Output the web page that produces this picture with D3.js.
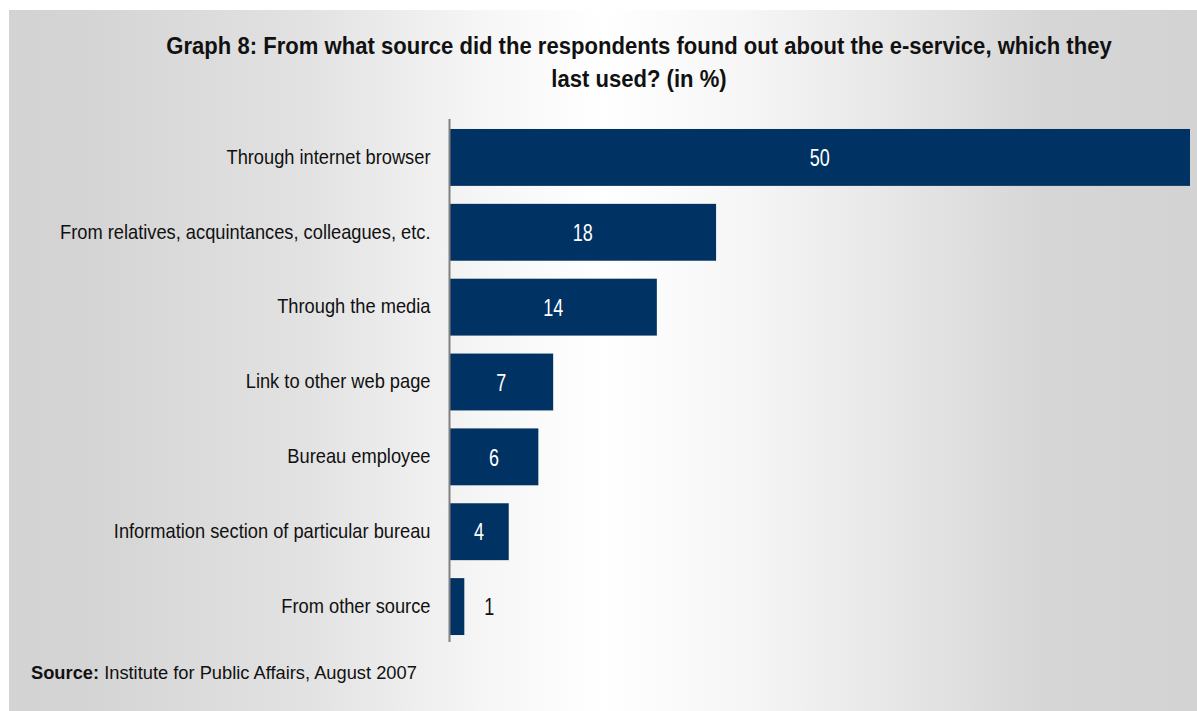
<!DOCTYPE html>
<html>
<head>
<meta charset="utf-8">
<script src="https://cdn.jsdelivr.net/npm/d3@7"></script>
<style>
  html, body { margin: 0; padding: 0; background: #ffffff; }
  svg { display: block; }
</style>
</head>
<body>
<svg id="chart" width="1197" height="711"></svg>
<script>
// Survey answers, in the order they are listed
const categories = [
  "Through internet browser",
  "From relatives, acquintances, colleagues, etc.",
  "Through the media",
  "Link to other web page",
  "Bureau employee",
  "Information section of particular bureau",
  "From other source"
];
const values = [50, 18, 14, 7, 6, 4, 1];
const titleLines = [
  "Graph 8: From what source did the respondents found out about the e-service, which they",
  "last used? (in %)"
];
const sourceLabel = "Source:";
const sourceText = " Institute for Public Affairs, August 2007";

const W = 1197, H = 711;
const svg = d3.select("#chart");
const font = "'Liberation Sans', Arial, sans-serif";

// Panel background: grey at the edges fading to white near the middle
const defs = svg.append("defs");
const grad = defs.append("linearGradient")
  .attr("id", "panelFill")
  .attr("x1", "0%").attr("x2", "100%").attr("y1", "0%").attr("y2", "0%");
[[0, "#d3d3d3"], [0.06, "#d4d4d4"], [0.25, "#e2e2e2"], [0.40, "#f6f6f6"], [0.50, "#ffffff"],
 [0.62, "#f6f6f6"], [0.75, "#e6e6e6"], [0.87, "#d6d6d6"], [1, "#d3d3d3"]]
  .forEach(([o, c]) => grad.append("stop").attr("offset", o).attr("stop-color", c));

svg.append("rect")
  .attr("x", 9).attr("y", 10)
  .attr("width", W - 9).attr("height", H - 10)
  .attr("fill", "url(#panelFill)");

// Scales
const x = d3.scaleLinear().domain([0, 50]).range([449.5, 1190]);
const y = d3.scaleBand().domain(categories).range([120, 644]).paddingInner(0.24).paddingOuter(0.12);

// Bars
svg.append("g").selectAll("rect")
  .data(values)
  .join("rect")
  .attr("x", x(0))
  .attr("y", (d, i) => y(categories[i]))
  .attr("width", d => x(d) - x(0))
  .attr("height", y.bandwidth())
  .attr("fill", "#003263");

// Category axis (line only, labels in a condensed face beside it)
const labelSqueeze = 0.87;
const yAxis = d3.axisLeft(y).tickSize(0).tickPadding(19);
const gy = svg.append("g")
  .attr("transform", `translate(${x(0)},0)`)
  .call(yAxis);
gy.select(".domain").attr("stroke", "#808080").attr("stroke-width", 2)
  .attr("d", `M0,${y.range()[0] - 1}V${y.range()[1] - 2}`);
gy.selectAll("text")
  .attr("font-family", font)
  .attr("font-size", 21)
  .attr("fill", "#111111")
  .attr("x", -19 / labelSqueeze)
  .attr("dy", "0.3em")
  .attr("transform", `scale(${labelSqueeze},1)`);

// Value labels: centred in the bar, or just past its end when the bar is too short
const valueSqueeze = 0.75;
const inside = d => x(d) - x(0) > 30;
svg.append("g").selectAll("text")
  .data(values)
  .join("text")
  .attr("transform", (d, i) => {
    const cx = inside(d) ? (x(0) + x(d)) / 2 : x(d) + 25;
    const cy = y(categories[i]) + y.bandwidth() / 2;
    return `translate(${cx},${cy}) scale(${valueSqueeze},1)`;
  })
  .attr("dy", "0.36em")
  .attr("text-anchor", "middle")
  .attr("font-family", font)
  .attr("font-size", 24)
  .attr("fill", d => (inside(d) ? "#ffffff" : "#111111"))
  .text(d => d);

// Title
svg.append("g")
  .attr("transform", "translate(639,0) scale(0.92,1)")
  .selectAll("text")
  .data(titleLines)
  .join("text")
  .attr("x", 0)
  .attr("y", (d, i) => 54 + i * 33)
  .attr("text-anchor", "middle")
  .attr("font-family", font)
  .attr("font-weight", "bold")
  .attr("font-size", 24)
  .attr("fill", "#111111")
  .text(d => d);

// Source note
const src = svg.append("text")
  .attr("x", 31).attr("y", 679)
  .attr("font-family", font)
  .attr("font-size", 18.3)
  .attr("fill", "#111111");
src.append("tspan").attr("font-weight", "bold").text(sourceLabel);
src.append("tspan").text(sourceText);
</script>
</body>
</html>
